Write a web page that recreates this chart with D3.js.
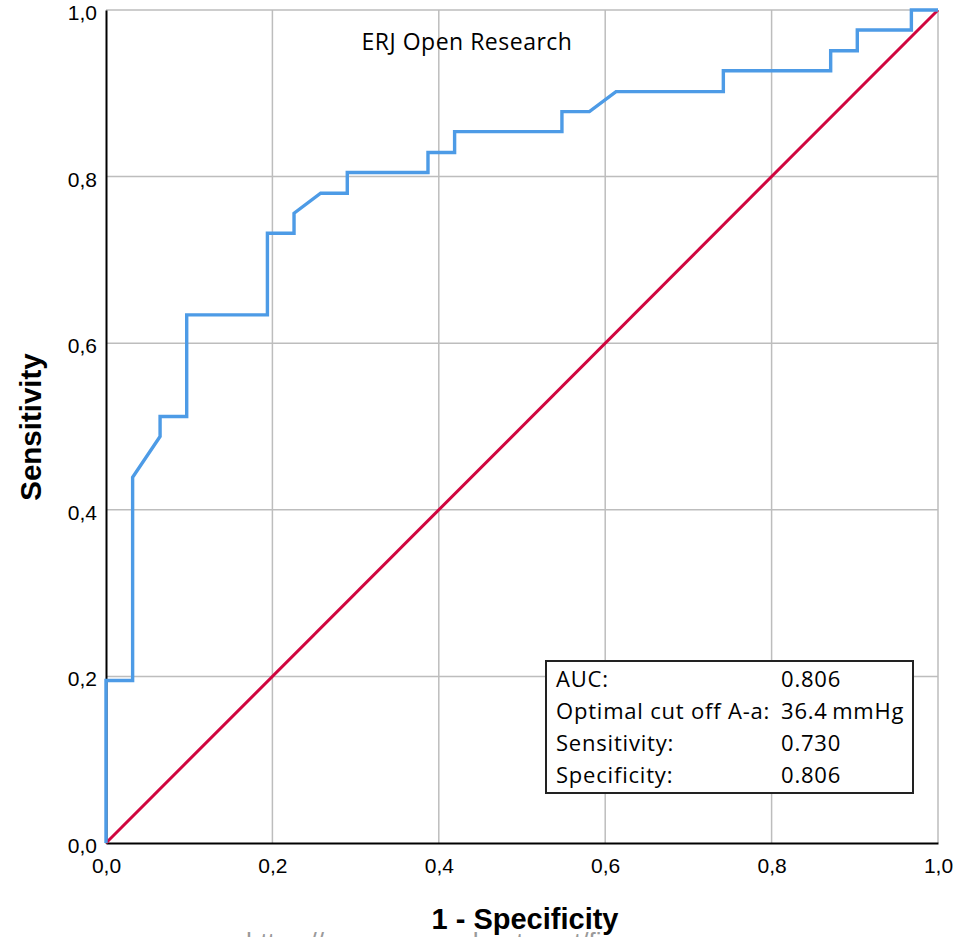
<!DOCTYPE html>
<html>
<head>
<meta charset="utf-8">
<script src="https://cdn.jsdelivr.net/npm/d3@7"></script>
<style>
  body { margin: 0; background: #fff; }
  svg { display: block; }
</style>
</head>
<body>
<svg width="957" height="937"></svg>
<script>
// ROC curve, A-a gradient
const fpr = [0, 0, 0.032, 0.032, 0.065, 0.065, 0.097, 0.097, 0.194, 0.194, 0.226, 0.226, 0.258, 0.290, 0.290, 0.387,
  0.387, 0.419, 0.419, 0.548, 0.548, 0.581, 0.613, 0.742, 0.742, 0.871, 0.871, 0.903, 0.903, 0.968, 0.968, 1.0];
const tpr = [0, 0.195, 0.195, 0.439, 0.488, 0.512, 0.512, 0.634, 0.634, 0.732, 0.732, 0.756, 0.780, 0.780, 0.805, 0.805,
  0.829, 0.829, 0.854, 0.854, 0.878, 0.878, 0.902, 0.902, 0.927, 0.927, 0.951, 0.951, 0.976, 0.976, 1.0, 1.0];
const refX = [0, 1];
const refY = [0, 1];
const ticks = [0, 0.2, 0.4, 0.6, 0.8, 1.0];
const statLabels = ['AUC:', 'Optimal cut off A-a:', 'Sensitivity:', 'Specificity:'];
const statValues = ['0.806', '36.4\u2009mmHg', '0.730', '0.806'];

const fmt = d => d3.format('.1f')(d).replace('.', ',');

const svg = d3.select('svg');
const x = d3.scaleLinear().domain([0, 1]).range([106, 938]);
const y = d3.scaleLinear().domain([0, 1]).range([843, 10]);

// grid
svg.append('g').selectAll('line')
  .data(ticks.slice(1))
  .enter().append('line')
    .attr('x1', d => x(d)).attr('x2', d => x(d))
    .attr('y1', y(0)).attr('y2', y(1))
    .attr('stroke', '#bdbdbd').attr('stroke-width', 1.5);
svg.append('g').selectAll('line')
  .data(ticks.slice(1))
  .enter().append('line')
    .attr('x1', x(0)).attr('x2', x(1))
    .attr('y1', d => y(d)).attr('y2', d => y(d))
    .attr('stroke', '#bdbdbd').attr('stroke-width', 1.5);

// axes
const xAxis = svg.append('g')
  .attr('transform', `translate(0,${y(0)})`)
  .call(d3.axisBottom(x).tickValues(ticks).tickFormat(fmt).tickSize(0).tickPadding(15));
const yAxis = svg.append('g')
  .attr('transform', `translate(${x(0)},0)`)
  .call(d3.axisLeft(y).tickValues(ticks).tickFormat(fmt).tickSize(0).tickPadding(9));
[xAxis, yAxis].forEach(a => {
  a.select('.domain').attr('stroke', '#000').attr('stroke-width', 2);
  a.selectAll('text')
    .attr('font-family', 'Liberation Sans, Arial, sans-serif')
    .attr('font-size', 21).attr('fill', '#000');
});
yAxis.selectAll('text').attr('dy', '0.45em');

// reference diagonal
svg.append('path')
  .datum(d3.zip(refX, refY))
  .attr('d', d3.line().x(d => x(d[0])).y(d => y(d[1])))
  .attr('fill', 'none').attr('stroke', '#d0063f').attr('stroke-width', 3);

// ROC curve
svg.append('path')
  .datum(d3.zip(fpr, tpr))
  .attr('d', d3.line().x(d => x(d[0])).y(d => y(d[1])))
  .attr('fill', 'none').attr('stroke', '#4d9be6').attr('stroke-width', 3.4)
  .attr('stroke-linejoin', 'miter');

// annotation
svg.append('text')
  .attr('x', 467).attr('y', 50)
  .attr('text-anchor', 'middle')
  .attr('font-family', 'Open Sans, sans-serif').attr('font-size', 23)
  .attr('letter-spacing', 0.5)
  .text('ERJ Open Research');

// stats box
const box = svg.append('g');
box.append('rect')
  .attr('x', 546).attr('y', 661).attr('width', 367).attr('height', 132)
  .attr('fill', '#fff').attr('stroke', '#222').attr('stroke-width', 2);
box.selectAll('text.lab')
  .data(statLabels)
  .enter().append('text')
    .attr('class', 'lab')
    .attr('x', 556).attr('y', (d, i) => 687 + i * 32)
    .attr('font-family', 'Open Sans, sans-serif').attr('font-size', 22)
    .attr('letter-spacing', 0.8)
    .text(d => d);
box.selectAll('text.val')
  .data(statValues)
  .enter().append('text')
    .attr('class', 'val')
    .attr('x', 781).attr('y', (d, i) => 687 + i * 32)
    .attr('font-family', 'Open Sans, sans-serif').attr('font-size', 22)
    .attr('letter-spacing', 0.8)
    .text(d => d);

// axis titles
svg.append('text')
  .attr('transform', 'translate(41,427) rotate(-90)')
  .attr('text-anchor', 'middle')
  .attr('font-family', 'Liberation Sans, Arial, sans-serif')
  .attr('font-weight', 'bold').attr('font-size', 29.5)
  .text('Sensitivity');
svg.append('text')
  .attr('x', 525).attr('y', 929)
  .attr('text-anchor', 'middle')
  .attr('font-family', 'Liberation Sans, Arial, sans-serif')
  .attr('font-weight', 'bold').attr('font-size', 29)
  .text('1 - Specificity');

// clipped source watermark
svg.append('text')
  .attr('x', 246).attr('y', 951)
  .attr('font-family', 'Liberation Sans, Arial, sans-serif')
  .attr('font-size', 26).attr('fill', '#9a9a9a')
  .text('https://www.researchgate.net/figure');
</script>
</body>
</html>
